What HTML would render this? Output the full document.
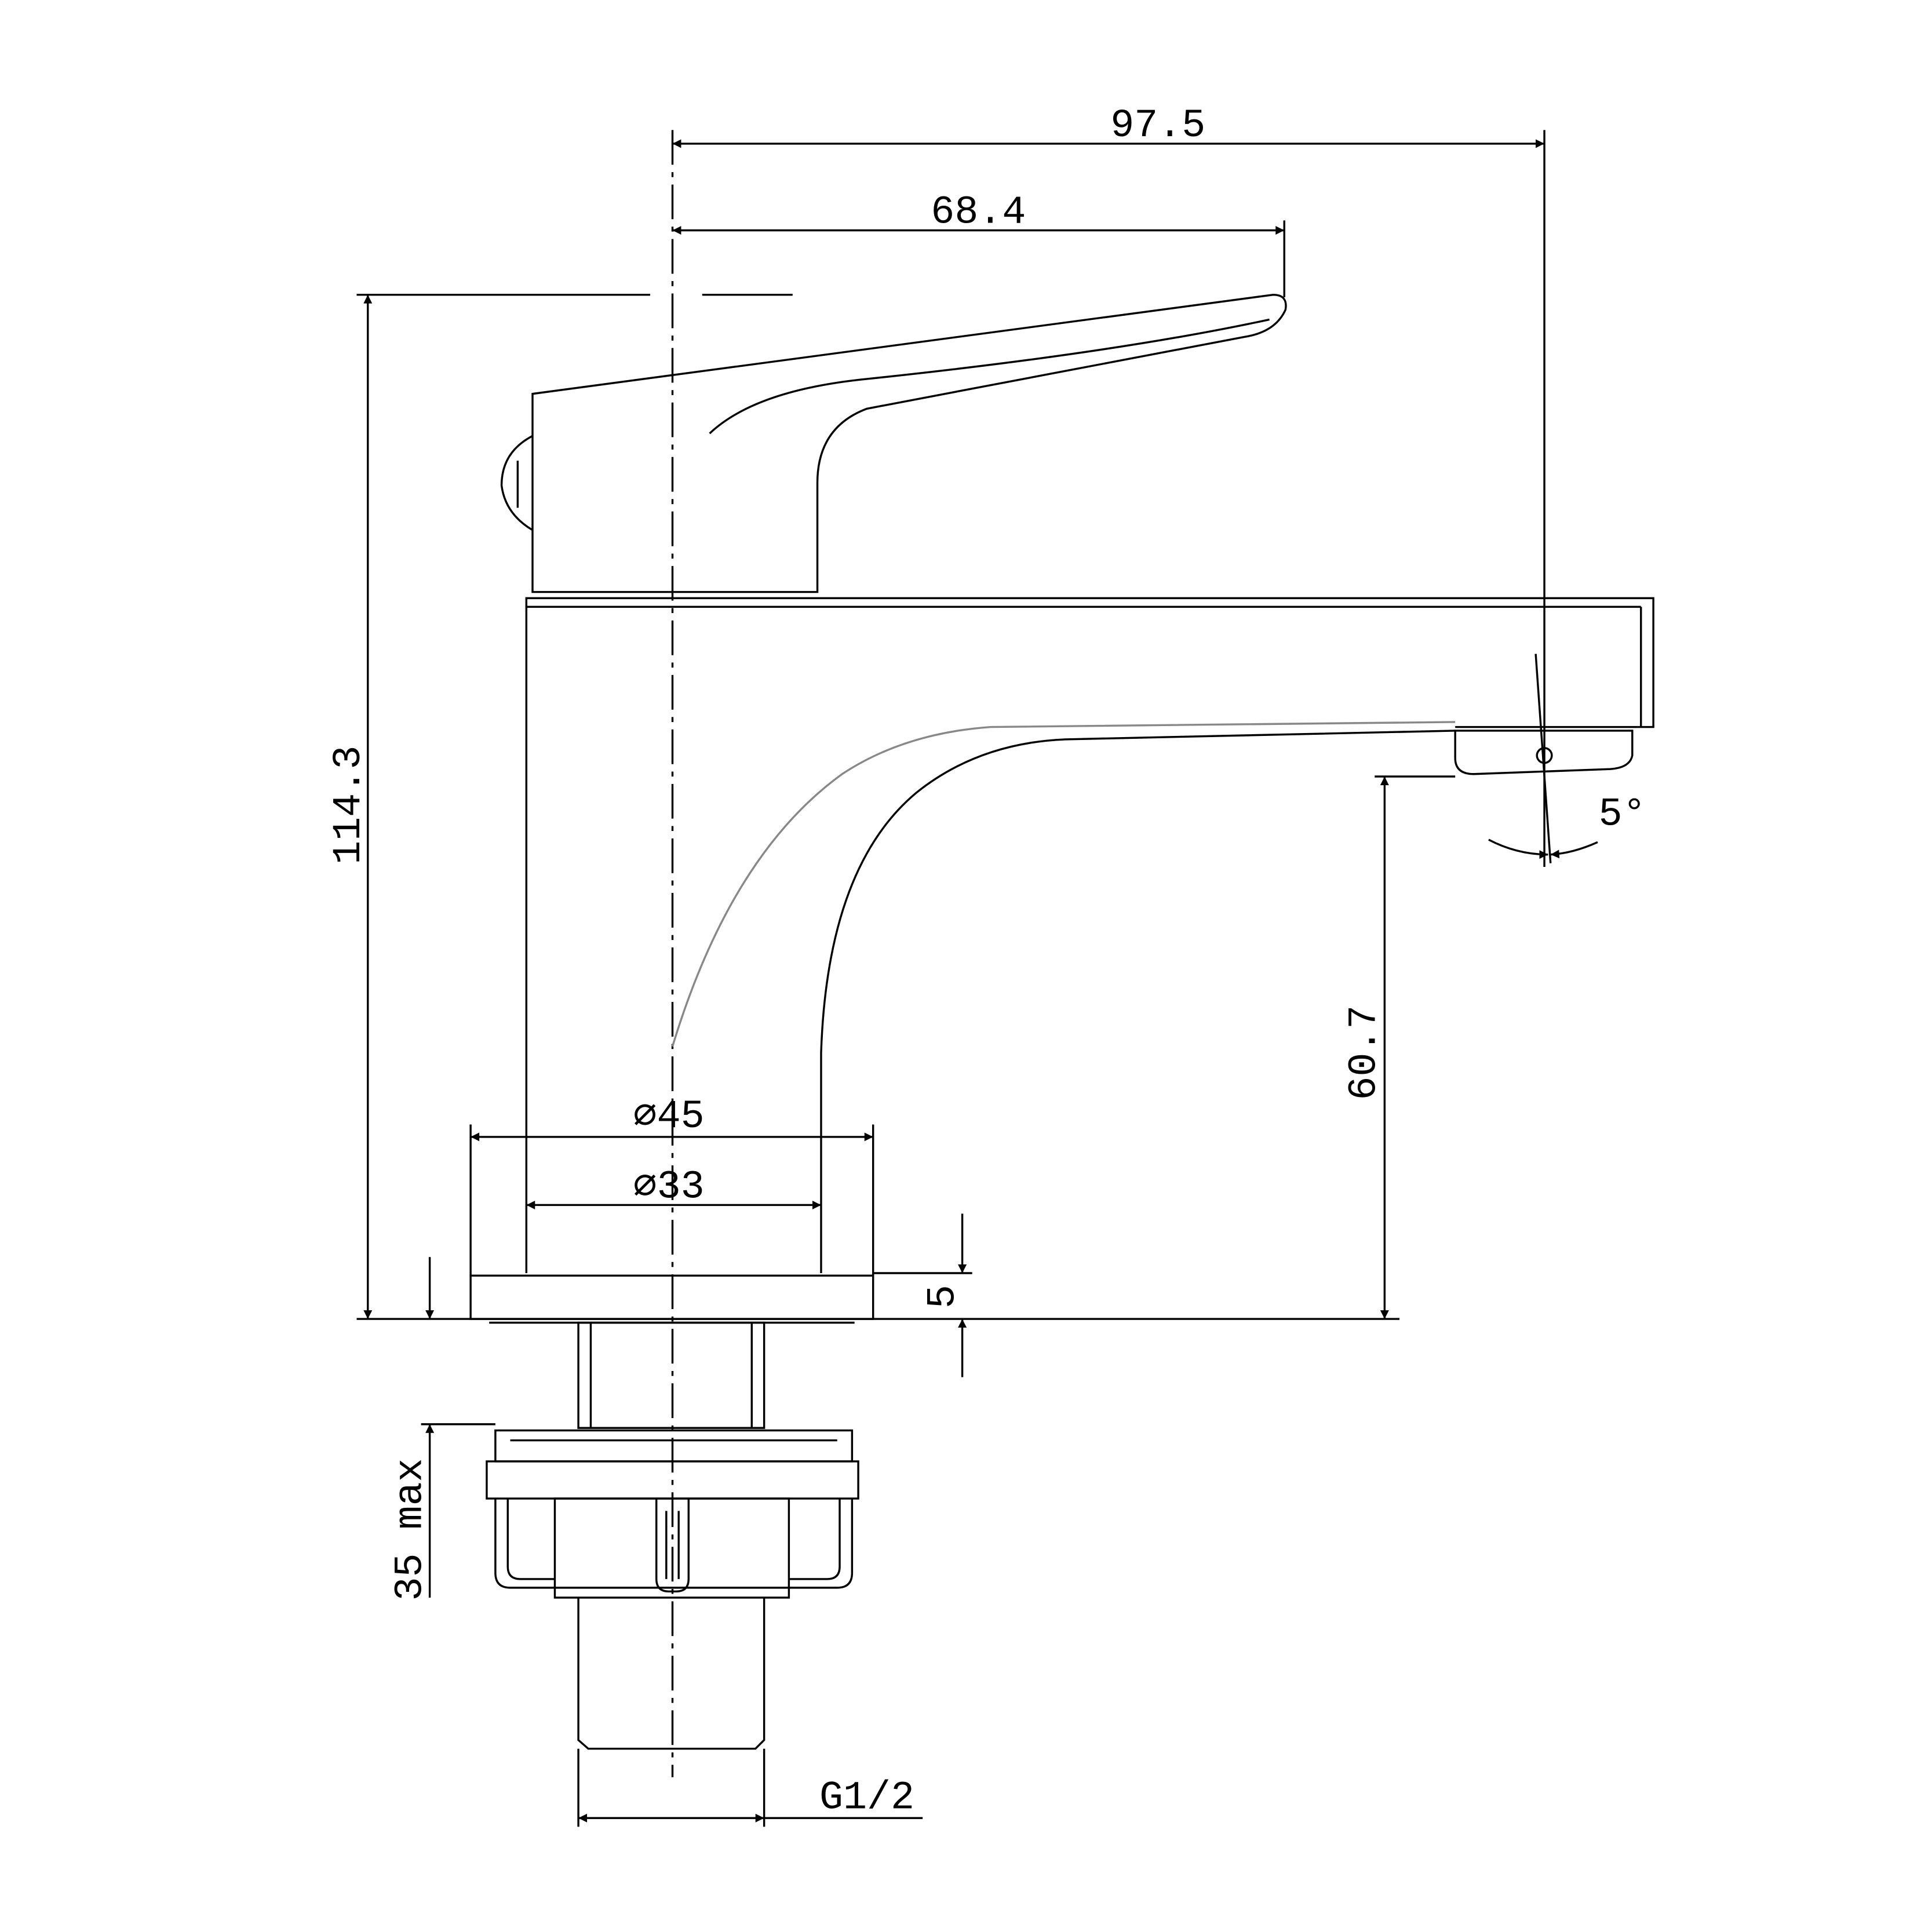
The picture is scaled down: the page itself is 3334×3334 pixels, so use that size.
<!DOCTYPE html>
<html><head><meta charset="utf-8"><style>
html,body{margin:0;padding:0;background:#fff;}
svg{display:block;}
text{font-family:"Liberation Mono","DejaVu Sans Mono",monospace;fill:#000;}
</style></head><body>
<svg width="3334" height="3334" viewBox="0 0 1560 1560" xmlns="http://www.w3.org/2000/svg">
<rect width="1560" height="1560" fill="#fff"/>
<defs>
<marker id="a" viewBox="0 0 10 10" refX="10" refY="5" markerWidth="18" markerHeight="7" markerUnits="userSpaceOnUse" orient="auto-start-reverse"><path d="M0,0 L10,5 L0,10 z" fill="#000"/></marker>
</defs>
<g stroke="#000" stroke-width="1.6" fill="none">
<line x1="543" y1="105" x2="543" y2="1435" stroke-dasharray="28,6,4,6"/>
<line x1="543" y1="116" x2="1247" y2="116" marker-start="url(#a)" marker-end="url(#a)"/>
<line x1="1247" y1="105" x2="1247" y2="700"/>
<line x1="543" y1="186" x2="1037" y2="186" marker-start="url(#a)" marker-end="url(#a)"/>
<line x1="1037" y1="178" x2="1037" y2="240"/>
<line x1="288" y1="238" x2="525" y2="238"/>
<line x1="567" y1="238" x2="640" y2="238"/>
<line x1="297" y1="238" x2="297" y2="1065" marker-start="url(#a)" marker-end="url(#a)"/>
<path d="M430,318 L1028,238 Q1040,238 1038,250 Q1030,268 1005,272 L700,330 Q660,345 660,390 L660,478 L430,478 L430,325 Z"/>
<path d="M573,350 Q610,315 700,306 Q900,285 1025,258"/>
<path d="M430,352 Q405,365 405,392 Q408,415 430,428"/>
<line x1="418" y1="372" x2="418" y2="410"/>
<path d="M425,1028 L425,483 L1335,483 L1335,587 L1175,587"/>
<line x1="425" y1="490" x2="1325" y2="490"/>
<line x1="1325" y1="490" x2="1325" y2="587"/>
<path d="M663,1028 L663,850 Q668,700 740,640 Q790,600 860,597 L1175,590"/>
<path d="M543,845 Q590,690 680,625 Q730,592 800,587 L1175,583" stroke="#888"/>
<path d="M1175,590 L1318,590 L1318,610 Q1316,620 1300,621 L1190,625 Q1175,625 1175,612 Z"/>
<line x1="1240" y1="528" x2="1252" y2="697"/>
<circle cx="1247" cy="610" r="6"/>
<path d="M1202,678 Q1225,690 1250,690" marker-end="url(#a)"/>
<path d="M1290,680 Q1270,689 1252,690" marker-end="url(#a)"/>
<rect x="380" y="1030" width="325" height="35"/>
<line x1="395" y1="1068" x2="690" y2="1068"/>
<line x1="380" y1="908" x2="380" y2="1030"/>
<line x1="705" y1="908" x2="705" y2="1030"/>
<line x1="380" y1="918" x2="705" y2="918" marker-start="url(#a)" marker-end="url(#a)"/>
<line x1="425" y1="973" x2="663" y2="973" marker-start="url(#a)" marker-end="url(#a)"/>
<line x1="705" y1="1028" x2="785" y2="1028"/>
<line x1="288" y1="1065" x2="1130" y2="1065"/>
<line x1="777" y1="980" x2="777" y2="1028" marker-end="url(#a)"/>
<line x1="777" y1="1112" x2="777" y2="1065" marker-end="url(#a)"/>
<line x1="1110" y1="627" x2="1175" y2="627"/>
<line x1="1118" y1="627" x2="1118" y2="1065" marker-start="url(#a)" marker-end="url(#a)"/>
<rect x="467" y="1068" width="150" height="85"/>
<line x1="477" y1="1068" x2="477" y2="1153"/>
<line x1="607" y1="1068" x2="607" y2="1153"/>
<rect x="400" y="1155" width="288" height="25"/>
<line x1="412" y1="1163" x2="676" y2="1163"/>
<rect x="393" y="1180" width="300" height="30"/>
<path d="M400,1210 L400,1270 Q400,1282 412,1282 L676,1282 Q688,1282 688,1270 L688,1210"/>
<path d="M410,1210 L410,1265 Q410,1275 420,1275 L448,1275"/>
<path d="M678,1210 L678,1265 Q678,1275 668,1275 L637,1275"/>
<rect x="448" y="1210" width="189" height="80"/>
<path d="M530,1210 L530,1275 Q530,1285 540,1285 L546,1285 Q556,1285 556,1275 L556,1210"/>
<line x1="538" y1="1220" x2="538" y2="1275"/>
<line x1="548" y1="1220" x2="548" y2="1275"/>
<path d="M467,1290 L467,1405 L475,1412 L610,1412 L617,1405 L617,1290"/>
<line x1="467" y1="1412" x2="467" y2="1475"/>
<line x1="617" y1="1412" x2="617" y2="1475"/>
<line x1="467" y1="1468" x2="617" y2="1468" marker-start="url(#a)" marker-end="url(#a)"/>
<line x1="617" y1="1468" x2="745" y2="1468"/>
<line x1="340" y1="1150" x2="400" y2="1150"/>
<line x1="347" y1="1015" x2="347" y2="1065" marker-end="url(#a)"/>
<line x1="347" y1="1290" x2="347" y2="1150" marker-end="url(#a)"/>
</g>
<g font-size="32">
<text x="935" y="110" text-anchor="middle">97.5</text>
<text x="790" y="180" text-anchor="middle">68.4</text>
<text x="290" y="650" text-anchor="middle" transform="rotate(-90 290 650)">114.3</text>
<text x="540" y="910" text-anchor="middle">⌀45</text>
<text x="540" y="967" text-anchor="middle">⌀33</text>
<text x="770" y="1047" text-anchor="middle" transform="rotate(-90 770 1047)">5</text>
<text x="1110" y="850" text-anchor="middle" transform="rotate(-90 1110 850)">60.7</text>
<text x="1310" y="666" text-anchor="middle">5°</text>
<text x="340" y="1235" text-anchor="middle" transform="rotate(-90 340 1235)">35 max</text>
<text x="700" y="1460" text-anchor="middle">G1/2</text>
</g>
</svg>
</body></html>
